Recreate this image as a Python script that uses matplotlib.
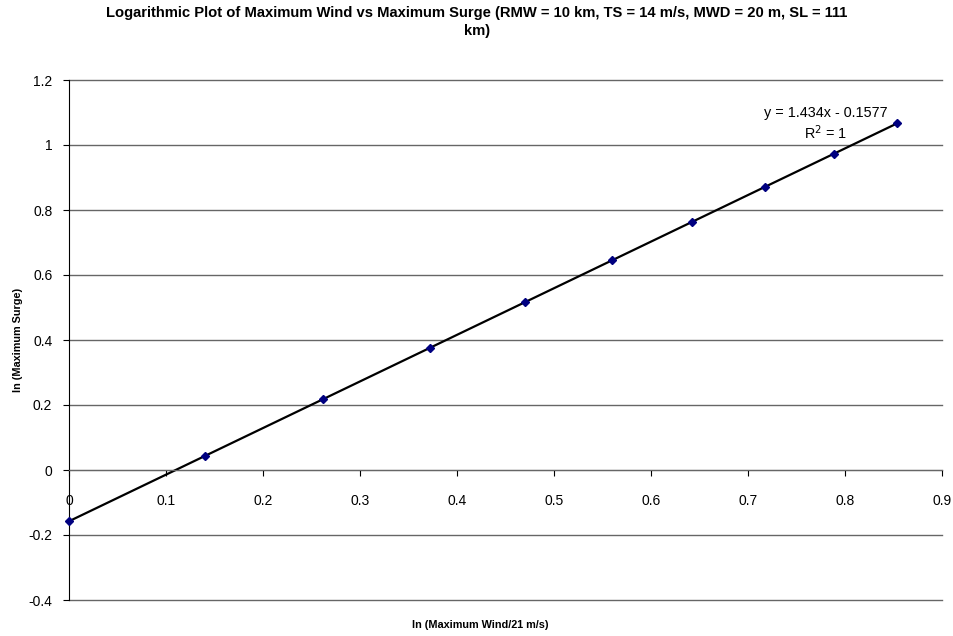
import numpy as np
import matplotlib.pyplot as plt

plt.rcParams['font.family'] = ['Liberation Sans', 'DejaVu Sans']

# ln(wind / 21 m/s) and ln(surge) for each run
ln_wind = [0.0, 0.140, 0.262, 0.372, 0.470, 0.560, 0.642, 0.718, 0.789, 0.854]
ln_surge = [-0.158, 0.043, 0.218, 0.375, 0.516, 0.645, 0.763, 0.872, 0.973, 1.067]

# linear trendline
slope = 1.434
intercept = -0.1577
r2 = 1

xticks = [0, 0.1, 0.2, 0.3, 0.4, 0.5, 0.6, 0.7, 0.8, 0.9]
yticks = [-0.4, -0.2, 0, 0.2, 0.4, 0.6, 0.8, 1, 1.2]

fig = plt.figure(figsize=(9.54, 6.36), dpi=100)
ax = fig.add_axes([69/954, 1-600/636, (942-69)/954, (600-80)/636])

# horizontal gridlines
for yv in yticks:
    ax.axhline(yv, color='#666666', lw=1, zorder=1, clip_on=False)

xs = np.array([ln_wind[0], ln_wind[-1]])
ax.plot(xs, slope*xs + intercept, color='black', lw=1.6, zorder=2)
ax.plot(ln_wind, ln_surge, linestyle='none', marker='D', ms=4.5,
        color='#000080', zorder=3, clip_on=False)

ax.set_xlim(0, 0.9)
ax.set_ylim(-0.4, 1.2)
ax.set_xticks(xticks)
ax.set_xticklabels(['0' if v == 0 else f'{v:g}' for v in xticks])
ax.set_yticks(yticks)
ax.set_yticklabels([f'{v:g}' for v in yticks])

for s in ['top', 'right']:
    ax.spines[s].set_visible(False)
ax.spines['bottom'].set_position(('data', 0))
ax.spines['bottom'].set_color('#666666')
ax.spines['left'].set_color('black')
ax.tick_params(axis='x', direction='out', length=4, pad=13, labelsize=10, color='black')
ax.tick_params(axis='y', direction='out', length=4, pad=8, labelsize=10, color='black')

ax.text(0.7804, 1.098, f'y = {slope}x - {abs(intercept)}', ha='center', va='center', fontsize=10.4)
ax.text(0.7804, 1.037, f'R$^2$ = {r2}', ha='center', va='center', fontsize=10.4)

fig.text(0.5, 1-6/636, 'Logarithmic Plot of Maximum Wind vs Maximum Surge (RMW = 10 km, TS = 14 m/s, MWD = 20 m, SL = 111\nkm)',
         ha='center', va='top', fontsize=10.6, fontweight='bold', linespacing=1.4)
fig.text(480/954, 1-625/636, 'ln (Maximum Wind/21 m/s)', ha='center', va='center',
         fontsize=7.8, fontweight='bold')
fig.text(18/954, 1-340/636, 'ln (Maximum Surge)', ha='center', va='center',
         rotation=90, fontsize=7.8, fontweight='bold')

fig.savefig('out.png', dpi=100)
